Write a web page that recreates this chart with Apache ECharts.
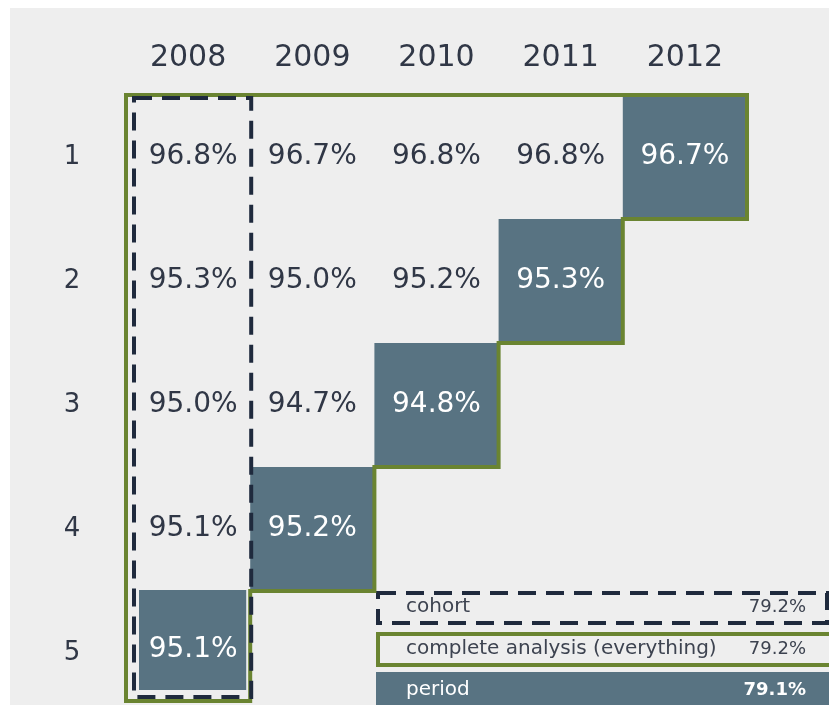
<!DOCTYPE html>
<html>
<head>
<meta charset="utf-8">
<script src="https://cdn.jsdelivr.net/npm/echarts@6/dist/echarts.min.js"></script>
<style>
html,body{margin:0;padding:0;background:#ffffff;overflow:hidden;}
#chart{width:829px;height:720px;}
</style>
</head>
<body>
<div id="chart"></div>
<script>
// ---- data ----
var years = ['2008', '2009', '2010', '2011', '2012'];
var rowLabels = ['1', '2', '3', '4', '5'];
var rateRow1 = [96.8, 96.7, 96.8, 96.8, 96.7];
var rateRow2 = [95.3, 95.0, 95.2, 95.3];
var rateRow3 = [95.0, 94.7, 94.8];
var rateRow4 = [95.1, 95.2];
var rateRow5 = [95.1];
var legendLabels = ['cohort', 'complete analysis (everything)', 'period'];
var legendValues = [79.2, 79.2, 79.1];

// ---- styles ----
var DARK = '#587382';
var GREEN = '#6a8431';
var NAVY = '#1f2a3d';
var TEXT = '#303746';
var FONT = 'DejaVu Sans';

var rows = [rateRow1, rateRow2, rateRow3, rateRow4, rateRow5];
var cellData = [];
rows.forEach(function (arr, r) {
  arr.forEach(function (v, c) { cellData.push([c, r, v]); });
});

var chart = echarts.init(document.getElementById('chart'), null, {renderer: 'canvas'});

function cellRender(params, api) {
  var c = api.value(0), r = api.value(1), v = api.value(2);
  var p = api.coord([c, r]);
  var s = api.size([1, 1]);
  var x0 = p[0] - s[0] / 2, y0 = p[1] - s[1] / 2;
  var diag = (c + r === years.length - 1);
  var children = [];
  var ty = p[1];
  if (diag) {
    var shape = {x: x0, y: y0, width: s[0], height: s[1]};
    if (c === 0) { shape = {x: x0 + 13, y: y0 - 1, width: s[0] - 17, height: 100}; ty = p[1] - 3; }
    children.push({type: 'rect', shape: shape, style: {fill: DARK}});
  }
  children.push({
    type: 'text', x: p[0] + (c === 0 ? 5 : 0), y: ty,
    style: {text: v.toFixed(1) + '%', fill: diag ? '#ffffff' : TEXT,
      font: '28px "' + FONT + '"', align: 'center', verticalAlign: 'middle'}
  });
  return {type: 'group', children: children};
}

function outlineRender(params, api) {
  var p = api.coord([0, 0]);
  var s = api.size([1, 1]);
  var w = s[0], h = s[1];
  var X0 = p[0] - w / 2, Y0 = p[1] - h / 2;
  var n = years.length;
  var yBot = Y0 + (n - 1) * h + 110;
  var pts = [[X0, Y0], [X0 + n * w, Y0]];
  for (var r = 0; r < n - 1; r++) {
    var xr = X0 + (n - r) * w;
    var yb = Y0 + (r + 1) * h;
    pts.push([xr, yb]);
    pts.push([X0 + (n - r - 1) * w, yb]);
  }
  pts.push([X0 + w, yBot]);
  pts.push([X0, yBot]);
  return {
    type: 'group',
    children: [
      {type: 'polygon', shape: {points: pts},
        style: {fill: 'none', stroke: GREEN, lineWidth: 4, lineJoin: 'miter'}},
      {type: 'rect', shape: {x: X0 + 8, y: Y0 + 3, width: w - 7, height: yBot - Y0 - 7},
        style: {fill: 'none', stroke: NAVY, lineWidth: 4, lineDash: [18, 10]}}
    ]
  };
}

var legendGraphics = [
  {type: 'rect', left: 10, top: 8, shape: {width: 819, height: 712}, style: {fill: '#eeeeee'}, z: -10},
  {type: 'rect', shape: {x: 378, y: 593, width: 449, height: 30},
    style: {fill: 'none', stroke: NAVY, lineWidth: 4, lineDash: [18, 10]}},
  {type: 'rect', shape: {x: 378, y: 634, width: 453, height: 31},
    style: {fill: 'none', stroke: GREEN, lineWidth: 4}},
  {type: 'rect', shape: {x: 376, y: 672, width: 455, height: 40},
    style: {fill: DARK}}
];
var legendY = [607, 649, 690];
legendLabels.forEach(function (lab, i) {
  var col = i === 2 ? '#ffffff' : '#3d4350';
  legendGraphics.push({type: 'text', x: 406, y: legendY[i],
    style: {text: lab, fill: col, font: '20px "' + FONT + '"', verticalAlign: 'middle', align: 'left'}});
  legendGraphics.push({type: 'text', x: 806, y: legendY[i],
    style: {text: legendValues[i].toFixed(1) + '%', fill: col,
      font: (i === 2 ? 'bold ' : '') + '18px "' + FONT + '"', verticalAlign: 'middle', align: 'right'}});
});

chart.setOption({
  backgroundColor: '#ffffff',
  animation: false,
  graphic: legendGraphics,
  grid: {left: 126, top: 95, width: 621, height: 620, containLabel: false},
  xAxis: {
    type: 'category', data: years, position: 'top',
    axisLine: {show: false}, axisTick: {show: false}, splitLine: {show: false},
    axisLabel: {color: TEXT, fontFamily: FONT, fontSize: 30, margin: 22}
  },
  yAxis: {
    type: 'category', data: rowLabels, inverse: true,
    axisLine: {show: false}, axisTick: {show: false}, splitLine: {show: false},
    axisLabel: {color: TEXT, fontFamily: FONT, fontSize: 26, margin: 54, align: 'center'}
  },
  series: [
    {type: 'custom', renderItem: cellRender, data: cellData, clip: false, silent: true, z: 2},
    {type: 'custom', renderItem: outlineRender, data: [[0, 0]], clip: false, silent: true, z: 3}
  ]
});
</script>
</body>
</html>
